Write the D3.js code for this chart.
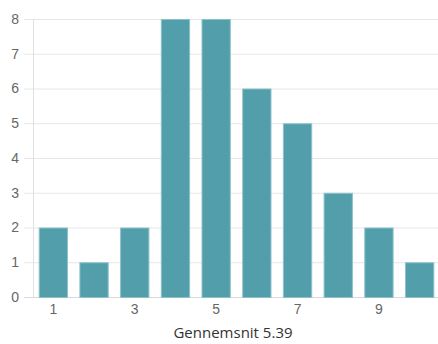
<!DOCTYPE html>
<html><head><meta charset="utf-8">
<script src="https://cdn.jsdelivr.net/npm/d3@7/dist/d3.min.js"></script>
<style>body{margin:0;background:#fff}svg{display:block}</style>
</head><body>
<svg id="c" width="438" height="344"></svg>
<script>
const categories = ["1","2","3","4","5","6","7","8","9","10"];
const values = [2,1,2,8,8,6,5,3,2,1];
const yTicks = [0,1,2,3,4,5,6,7,8];
const xTickLabels = ["1","3","5","7","9"];
const title = "Gennemsnit 5.39";

(function () {
const svg = d3.select("#c");
const mLeft = 33, mRight = 440, mTop = 19, mBottom = 297;

const x = d3.scaleBand().domain(categories).range([mLeft, mRight]).paddingInner(0).paddingOuter(0);
const y = d3.scaleLinear().domain([0, 8]).range([mBottom, mTop]);

// grid
svg.append("g").selectAll("line").data(yTicks).join("line")
  .attr("x1", 24).attr("x2", 438)
  .attr("y1", d => y(d) + 0.5).attr("y2", d => y(d) + 0.5)
  .attr("stroke", d => d === 0 ? "#d9d9d9" : "#e6e6e6").attr("stroke-width", 1);
svg.append("line").attr("x1", mLeft + 0.5).attr("x2", mLeft + 0.5)
  .attr("y1", mTop).attr("y2", mBottom + 1).attr("stroke", "#e0e0e0");

// y labels
const yAxis = d3.axisLeft(y).tickValues(yTicks).tickSize(0).tickPadding(0).tickFormat(d3.format("d"));
const ya = svg.append("g").attr("transform", `translate(19,0)`).call(yAxis);
ya.select(".domain").remove();
ya.selectAll("text").attr("font-family", "Liberation Sans, Arial, sans-serif").attr("font-size", 14).attr("fill", "#666");

// x labels
const xAxis = d3.axisBottom(x).tickValues(xTickLabels).tickSize(0).tickPadding(0);
const xa = svg.append("g").attr("transform", `translate(0,${mBottom + 6})`).call(xAxis);
xa.select(".domain").remove();
xa.selectAll("text").attr("font-family", "Liberation Sans, Arial, sans-serif").attr("font-size", 14).attr("fill", "#666").attr("dy", "0.75em");

// bars
const frac = 0.72;
svg.append("g").selectAll("rect").data(values).join("rect")
  .attr("x", (d, i) => x(categories[i]) + x.bandwidth() * (1 - frac) / 2 + 0.5)
  .attr("width", x.bandwidth() * frac - 1)
  .attr("y", d => y(d) + 0.5)
  .attr("height", d => y(0) - y(d))
  .attr("fill", "#529fab").attr("stroke", "#8ac3cb").attr("stroke-width", 1);

svg.append("text").attr("x", 233).attr("y", 338)
  .attr("text-anchor", "middle").attr("font-family", "Open Sans, sans-serif")
  .attr("font-size", 15).attr("fill", "#333").text(title);
})();
</script>
</body></html>
